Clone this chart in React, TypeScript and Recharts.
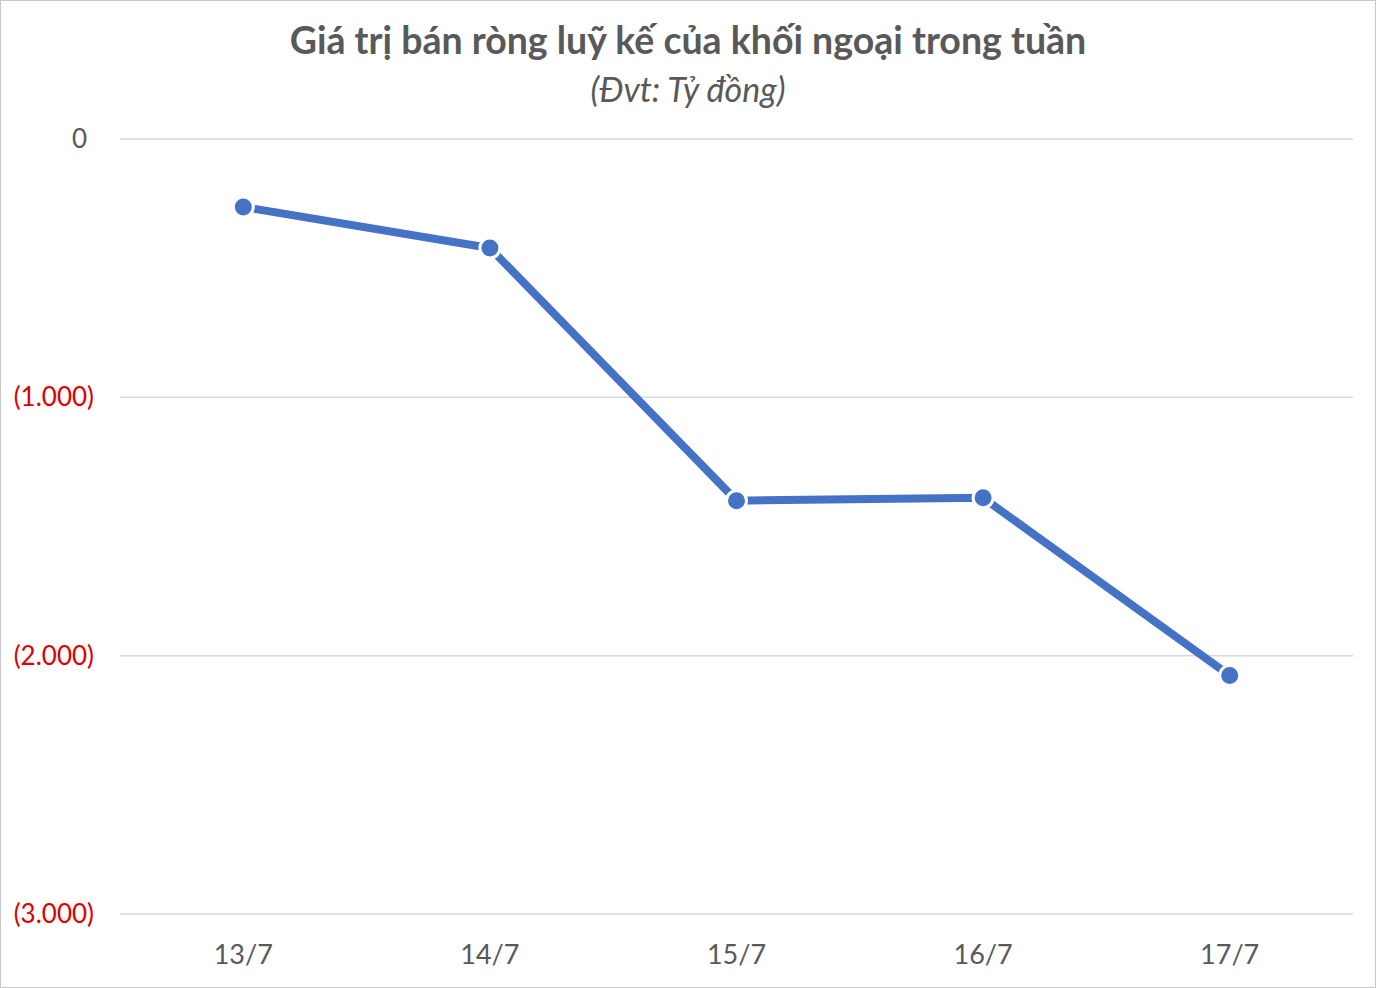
import { LineChart, Line, XAxis, YAxis, CartesianGrid } from "recharts";

const DAYS = ["13/7", "14/7", "15/7", "16/7", "17/7"];
const NET_SELL = [-263, -422, -1400, -1389, -2077];
const Y_TICKS = [0, -1000, -2000, -3000];

const data = DAYS.map((day, i) => ({ day, value: NET_SELL[i] }));

const FONT = "Lato, 'Open Sans', sans-serif";

function formatTick(v: number) {
  if (v === 0) return "0";
  const s = Math.abs(v).toLocaleString("de-DE");
  return v < 0 ? `(${s})` : s;
}

function YTick(props: any) {
  const { x, y, payload } = props;
  const v = payload.value as number;
  const neg = v < 0;
  return (
    <text
      x={neg ? x : x - 7}
      y={y}
      dy={9}
      textAnchor="end"
      fontSize={26}
      fontFamily={FONT}
      fill={neg ? "#e00000" : "#595959"}
    >
      {formatTick(v)}
    </text>
  );
}

export default function App() {
  return (
    <div
      style={{
        position: "relative",
        width: 1374,
        height: 986,
        border: "1px solid #c8c8c8",
        background: "#fff",
        fontFamily: FONT,
      }}
    >
      <style>{`body{margin:0}`}</style>
      <div
        style={{
          position: "absolute",
          top: 16,
          left: 0,
          width: "100%",
          textAlign: "center",
          fontSize: 37.5,
          fontWeight: 700,
          color: "#595959",
        }}
      >
        Giá trị bán ròng luỹ kế của khối ngoại trong tuần
      </div>
      <div
        style={{
          position: "absolute",
          top: 67,
          left: 0,
          width: "100%",
          textAlign: "center",
          fontSize: 34,
          fontStyle: "italic",
          color: "#595959",
        }}
      >
        (Đvt: Tỷ đồng)
      </div>
      <LineChart
        width={1374}
        height={986}
        data={data}
        margin={{ top: 138, right: 22, bottom: 13, left: 0 }}
      >
        <CartesianGrid vertical={false} stroke="#d9d9d9" strokeWidth={1.5} />
        <XAxis
          dataKey="day"
          scale="band"
          height={60}
          axisLine={false}
          tickLine={false}
          tickMargin={25}
          tick={{ fontSize: 27, fill: "#595959", fontFamily: FONT }}
        />
        <YAxis
          domain={[-3000, 0]}
          ticks={Y_TICKS}
          width={119}
          axisLine={false}
          tickLine={false}
          tickSize={0}
          tickMargin={26}
          tick={<YTick />}
        />
        <Line
          dataKey="value"
          stroke="#4472c4"
          strokeWidth={8}
          dot={{ r: 10, fill: "#4472c4", stroke: "#fff", strokeWidth: 3 }}
          isAnimationActive={false}
        />
      </LineChart>
    </div>
  );
}
